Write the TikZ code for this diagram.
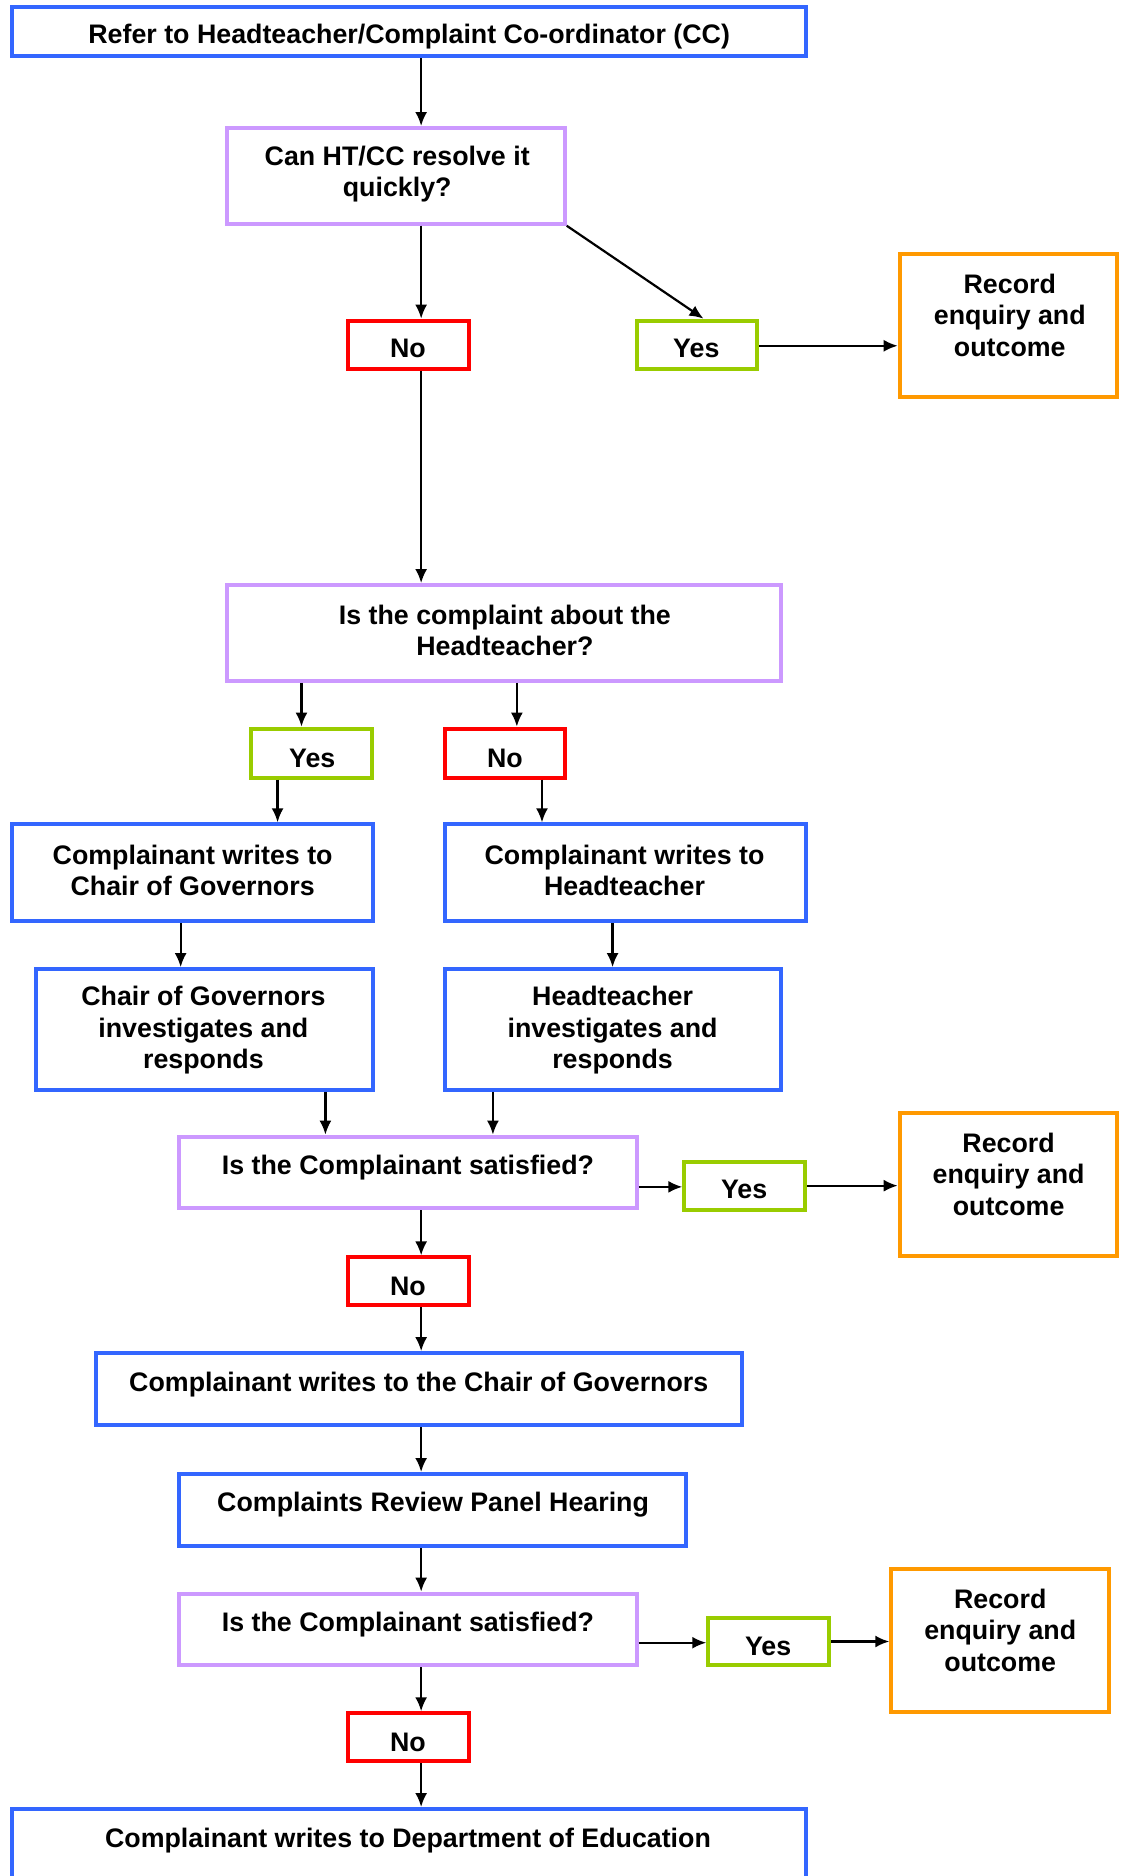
\documentclass[tikz,border=0pt]{standalone}
\usepackage{fontspec}
\setmainfont{Liberation Sans}
\usetikzlibrary{fit,arrows.meta}
\definecolor{cblue}{HTML}{3366FF}
\definecolor{cpurple}{HTML}{CC99FF}
\definecolor{cgreen}{HTML}{99CC00}
\definecolor{cred}{HTML}{FF0000}
\definecolor{corange}{HTML}{FF9900}
\tikzset{
  boxbase/.style={draw, line width=4pt, inner sep=0pt},
  bluebox/.style={boxbase, draw=cblue},
  purplebox/.style={boxbase, draw=cpurple},
  greenbox/.style={boxbase, draw=cgreen},
  redbox/.style={boxbase, draw=cred},
  orangebox/.style={boxbase, draw=corange},
  txt/.style={align=center, inner sep=0pt, font=\fontsize{26.8}{31.5}\selectfont\bfseries},
  arr/.style={draw=black, line width=2.2pt, -{Latex[length=14pt,width=12pt]}},
}
\newcommand\bx[6]{%
  \path (#3,#4) coordinate (#2-nw) (#5,#6) coordinate (#2-se);
  \node[#1, fit=(#2-nw)(#2-se)] (#2) {};}
\begin{document}
\begin{tikzpicture}[x=1.19681pt, y=-1.19681pt]
\useasboundingbox (0,0) rectangle (940,1568);
% x reference coordinates
\coordinate (c352) at (352,0);
\coordinate (c588) at (588,0);
\coordinate (c252) at (252,0);
\coordinate (c432) at (432,0);
\coordinate (c232) at (232,0);
\coordinate (c453) at (453,0);
\coordinate (c151) at (151,0);
\coordinate (c512) at (512,0);
\coordinate (c272) at (272,0);
\coordinate (c412) at (412,0);
\coordinate (y992) at (0,992);
\coordinate (y991) at (0,991);
\coordinate (y289) at (0,289);
\coordinate (y1373) at (0,1373);
\coordinate (y1372) at (0,1372);

% boxes
\bx{bluebox}{top}{10}{6}{674}{47}
\bx{purplebox}{q1}{190}{107}{472}{187}
\bx{redbox}{no1}{291}{268}{392}{308}
\bx{greenbox}{yes1}{532}{268}{633}{308}
\bx{orangebox}{rec1}{752}{212}{934}{332}
\bx{purplebox}{q2}{190}{489}{653}{569}
\bx{greenbox}{yes2}{210}{609}{311}{650}
\bx{redbox}{no2}{372}{609}{472}{650}
\bx{bluebox}{wcog}{10}{689}{312}{770}
\bx{bluebox}{wht}{372}{689}{674}{770}
\bx{bluebox}{icog}{30}{810}{312}{911}
\bx{bluebox}{iht}{372}{810}{653}{911}
\bx{purplebox}{q3}{150}{950}{532}{1010}
\bx{greenbox}{yes3}{572}{971}{673}{1011}
\bx{orangebox}{rec3}{752}{930}{934}{1050}
\bx{redbox}{no3}{291}{1051}{392}{1091}
\bx{bluebox}{wcog2}{80}{1131}{620}{1191}
\bx{bluebox}{panel}{150}{1232}{573}{1292}
\bx{purplebox}{q4}{150}{1332}{532}{1392}
\bx{greenbox}{yes4}{592}{1352}{693}{1392}
\bx{orangebox}{rec4}{745}{1311}{927}{1431}
\bx{redbox}{no4}{291}{1432}{392}{1472}
\bx{bluebox}{doe}{10}{1512}{674}{1620}

% texts
\node[txt] (top-t) at (342,30.5) {Refer to Headteacher/Complaint Co-ordinator (CC)};
\node[txt] (q1-t) at (332,145.5) {Can HT/CC resolve it\\quickly?};
\node[txt] (no1-t) at (341,291.5) {No};
\node[txt] (yes1-t) at (582,291.5) {Yes};
\node[txt] (rec1-t) at (844,263.5) {Record\\enquiry and\\outcome};
\node[txt] (q2-t) at (422,527) {Is the complaint about the\\Headteacher?};
\node[txt] (yes2-t) at (261,633.5) {Yes};
\node[txt] (no2-t) at (422,633.5) {No};
\node[txt] (wcog-t) at (161,727.5) {Complainant writes to\\Chair of Governors};
\node[txt] (wht-t) at (522,727.5) {Complainant writes to\\Headteacher};
\node[txt] (icog-t) at (170,861) {Chair of Governors\\investigates and\\responds};
\node[txt] (iht-t) at (512,861) {Headteacher\\investigates and\\responds};
\node[txt] (q3-t) at (341,976) {Is the Complainant satisfied?};
\node[txt] (yes3-t) at (622,994.5) {Yes};
\node[txt] (rec3-t) at (843,981.5) {Record\\enquiry and\\outcome};
\node[txt] (no3-t) at (341,1075.5) {No};
\node[txt] (wcog2-t) at (350,1157) {Complainant writes to the Chair of Governors};
\node[txt] (panel-t) at (362,1258) {Complaints Review Panel Hearing};
\node[txt] (q4-t) at (341,1358) {Is the Complainant satisfied?};
\node[txt] (yes4-t) at (642,1376.5) {Yes};
\node[txt] (rec4-t) at (836,1362.5) {Record\\enquiry and\\outcome};
\node[txt] (no4-t) at (341,1456.5) {No};
\node[txt] (doe-t) at (341,1538.5) {Complainant writes to Department of Education};

% arrows
\draw[arr] (top.south -| c352) -- (q1.north -| c352);
\draw[arr] (q1.south -| c352) -- (no1.north -| c352);
\draw[arr] (q1.south east) -- (yes1.north -| c588);
\draw[arr] (yes1.east |- y289) -- (rec1.west |- y289);
\draw[arr] (no1.south -| c352) -- (q2.north -| c352);
\draw[arr] (q2.south -| c252) -- (yes2.north -| c252);
\draw[arr] (q2.south -| c432) -- (no2.north -| c432);
\draw[arr] (yes2.south -| c232) -- (wcog.north -| c232);
\draw[arr] (no2.south -| c453) -- (wht.north -| c453);
\draw[arr] (wcog.south -| c151) -- (icog.north -| c151);
\draw[arr] (wht.south -| c512) -- (iht.north -| c512);
\draw[arr] (icog.south -| c272) -- (q3.north -| c272);
\draw[arr] (iht.south -| c412) -- (q3.north -| c412);
\draw[arr] (q3.east |- y992) -- (yes3.west |- y992);
\draw[arr] (yes3.east |- y991) -- (rec3.west |- y991);
\draw[arr] (q3.south -| c352) -- (no3.north -| c352);
\draw[arr] (no3.south -| c352) -- (wcog2.north -| c352);
\draw[arr] (wcog2.south -| c352) -- (panel.north -| c352);
\draw[arr] (panel.south -| c352) -- (q4.north -| c352);
\draw[arr] (q4.east |- y1373) -- (yes4.west |- y1373);
\draw[arr] (yes4.east |- y1372) -- (rec4.west |- y1372);
\draw[arr] (q4.south -| c352) -- (no4.north -| c352);
\draw[arr] (no4.south -| c352) -- (doe.north -| c352);
\end{tikzpicture}
\end{document}
